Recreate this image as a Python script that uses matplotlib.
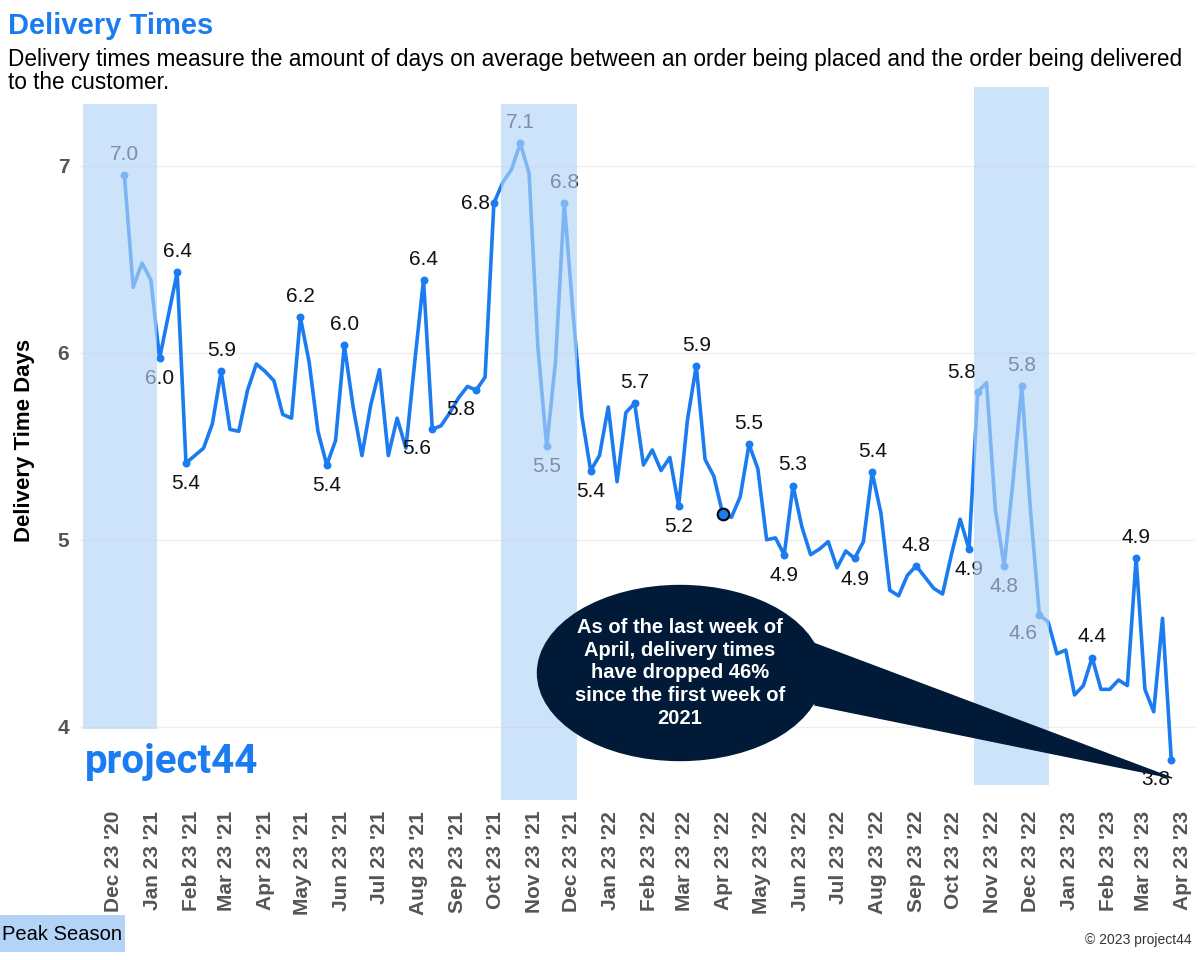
import matplotlib.pyplot as plt
import matplotlib.dates as mdates
from matplotlib.patches import Rectangle, Ellipse, Polygon
import numpy as np
import pandas as pd

plt.rcParams["font.family"] = ["Liberation Sans", "DejaVu Sans"]

BLUE = "#1a7cf0"
PEAK = "#b3d4f7"
NAVY = "#001a38"

values = [
    6.95, 6.35, 6.48, 6.39, 5.97, 6.20, 6.43, 5.41, 5.45, 5.49,
    5.62, 5.90, 5.59, 5.58, 5.80, 5.94, 5.90, 5.85, 5.67, 5.65,
    6.19, 5.95, 5.58, 5.40, 5.53, 6.04, 5.71, 5.45, 5.72, 5.91,
    5.45, 5.65, 5.49, 5.95, 6.39, 5.59, 5.61, 5.68, 5.76, 5.82,
    5.80, 5.87, 6.80, 6.91, 6.98, 7.12, 6.96, 6.03, 5.50, 5.95,
    6.80, 6.21, 5.66, 5.37, 5.45, 5.71, 5.31, 5.68, 5.73, 5.40,
    5.48, 5.37, 5.44, 5.18, 5.64, 5.93, 5.43, 5.34, 5.14, 5.12,
    5.23, 5.51, 5.38, 5.00, 5.01, 4.92, 5.29, 5.07, 4.92, 4.95,
    4.99, 4.85, 4.94, 4.90, 4.99, 5.36, 5.14, 4.73, 4.70, 4.81,
    4.86, 4.80, 4.74, 4.71, 4.92, 5.11, 4.95, 5.79, 5.84, 5.16,
    4.86, 5.31, 5.82, 5.15, 4.60, 4.56, 4.39, 4.41, 4.17, 4.22,
    4.37, 4.20, 4.20, 4.25, 4.22, 4.90, 4.20, 4.08, 4.58, 3.82,
]
dates = pd.date_range("2021-01-01", periods=len(values), freq="7D")

# (index, text, placement)
labels = [
    (0, "7.0", "above"), (4, "6.0", "below"), (6, "6.4", "above"),
    (7, "5.4", "below"), (11, "5.9", "above"), (20, "6.2", "above"),
    (23, "5.4", "below"), (25, "6.0", "above"), (34, "6.4", "above"),
    (35, "5.6", "belowleft"), (40, "5.8", "belowleft"), (42, "6.8", "left"),
    (45, "7.1", "above"), (48, "5.5", "below"), (50, "6.8", "above"),
    (53, "5.4", "below"), (58, "5.7", "above"), (63, "5.2", "below"),
    (65, "5.9", "above"), (71, "5.5", "above"), (75, "4.9", "below"),
    (76, "5.3", "above"), (83, "4.9", "below"), (85, "5.4", "above"),
    (90, "4.8", "above"), (96, "4.9", "below"), (97, "5.8", "aboveleft"),
    (100, "4.8", "below"), (102, "5.8", "above"), (104, "4.6", "belowleft"),
    (110, "4.4", "above"), (115, "4.9", "above"), (119, "3.8", "belowleft"),
]
highlight = 68

peak_seasons = [
    ("2020-11-29", "2021-01-27", 3.99, 7.33),
    ("2021-10-28", "2021-12-27", 3.59, 7.33),
    ("2022-11-08", "2023-01-07", 3.69, 7.42),
]

month_ticks = pd.date_range("2020-12-01", "2023-04-01", freq="MS") + pd.Timedelta(days=22)

fig = plt.figure(figsize=(12, 9.6), dpi=100)
ax = fig.add_axes([0.067, 0.167, 0.929, 0.748])

ax.plot(dates, values, color=BLUE, lw=2.6, zorder=2)
idx = [i for i, _, _ in labels]
ax.scatter(dates[idx], np.array(values)[idx], color=BLUE, s=22, zorder=3)
ax.scatter([dates[highlight]], [values[highlight]], color=BLUE, s=70,
           edgecolor="black", linewidth=1.5, zorder=5)

offsets = {"above": (0, 8, "center", "bottom"), "below": (0, -8, "center", "top"),
           "left": (-3, 0, "right", "center"), "belowleft": (-1, -7, "right", "top"),
           "aboveleft": (-1, 7, "right", "bottom")}
for i, txt, pos in labels:
    dx, dy, ha, va = offsets[pos]
    ax.annotate(txt, (dates[i], values[i]), xytext=(dx, dy), textcoords="offset points",
                ha=ha, va=va, fontsize=15, color="#111111", zorder=3)

for start, end, lo, hi in peak_seasons:
    x0 = mdates.date2num(pd.Timestamp(start))
    x1 = mdates.date2num(pd.Timestamp(end))
    ax.add_patch(Rectangle((x0, lo), x1 - x0, hi - lo, color=PEAK, alpha=0.65,
                           lw=0, zorder=4))

ax.set_xlim(pd.Timestamp("2020-11-27"), pd.Timestamp("2023-05-03"))
ax.set_ylim(3.61, 7.45)
ax.set_yticks([4, 5, 6, 7])
ax.set_xticks(month_ticks)
ax.set_xticklabels([d.strftime("%b %d '%y") for d in month_ticks], rotation=90)
for lab in ax.get_xticklabels() + ax.get_yticklabels():
    lab.set_fontweight("bold")
    lab.set_color("#555555")
    lab.set_fontsize(15)
ax.tick_params(length=0, pad=8)
ax.grid(axis="y", color="#eeeeee", lw=1)
for s in ax.spines.values():
    s.set_visible(False)
ax.set_ylabel("Delivery Time Days", fontsize=16, fontweight="bold", labelpad=16)

# callout
ell = Ellipse((680 / 1200, 1 - 673 / 960), 285 / 1200, 175 / 960,
              transform=fig.transFigure, color=NAVY, zorder=6)
fig.add_artist(ell)
tri = Polygon([(805 / 1200, 1 - 640 / 960), (815 / 1200, 1 - 705 / 960),
               (1172 / 1200, 1 - 778 / 960)], closed=True, transform=fig.transFigure,
              color=NAVY, zorder=6)
fig.add_artist(tri)
fig.text(680 / 1200, 1 - 673 / 960,
         "As of the last week of\nApril, delivery times\nhave dropped 46%\nsince the first week of\n2021",
         ha="center", va="center", color="white", fontsize=14.5, fontweight="bold",
         linespacing=1.25, zorder=7)

# logo
fig.text(85 / 1200, 1 - 762 / 960, "project44", ha="left", va="center",
         color=BLUE, fontsize=29, fontweight="bold", family="Roboto", zorder=7)

fig.text(0.007, 0.973, "Delivery Times", color=BLUE, fontsize=21, fontweight="bold",
         va="center")
fig.text(0.007, 0.926,
         "Delivery times measure the amount of days on average between an order being placed and the order being delivered\nto the customer.",
         fontsize=16.3, va="center", linespacing=1.05)

fig.add_artist(Rectangle((0, 1 - 952 / 960), 125 / 1200, 37 / 960,
                         transform=fig.transFigure, color=PEAK, lw=0))
fig.text(0.002, 1 - 934 / 960, "Peak Season", fontsize=14.5, va="center")
fig.text(0.993, 1 - 940 / 960, "© 2023 project44", fontsize=10, ha="right",
         va="center", color="#333333")

fig.savefig("out.png", dpi=100)
